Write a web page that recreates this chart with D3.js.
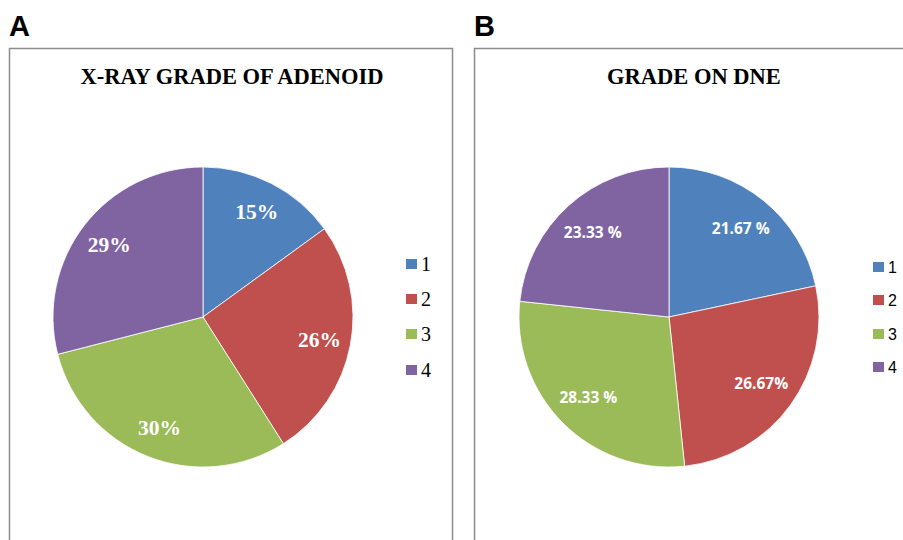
<!DOCTYPE html>
<html>
<head>
<meta charset="utf-8">
<script src="https://cdn.jsdelivr.net/npm/d3@7"></script>
<style>
  html, body { margin: 0; padding: 0; background: #fff; }
  svg { display: block; }
</style>
</head>
<body>
<svg id="chart" width="903" height="540"></svg>
<script>
// Grades shown in both pies
const grades = ["1", "2", "3", "4"];
const sliceColors = ["#4F81BD", "#C0504D", "#9BBB59", "#8064A2"];

// Panel A: X-ray grade of adenoid (%)
const xrayValues = [15, 26, 30, 29];
const xrayLabels = ["15%", "26%", "30%", "29%"];

// Panel B: grade on DNE (%)
const dneValues = [21.67, 26.67, 28.33, 23.33];
const dneLabels = ["21.67 %", "26.67%", "28.33 %", "23.33 %"];

const svg = d3.select("#chart");
const color = d3.scaleOrdinal().domain(grades).range(sliceColors);

const panels = [
  {
    letter: "A", x0: 9.5, x1: 452.5, title: "X-RAY GRADE OF ADENOID", titleX: 232,
    cx: 203, values: xrayValues, labels: xrayLabels,
    labelFont: "'Liberation Serif', 'Times New Roman', serif", labelSize: 21.5, labelR: 0.79,
    legendX: 406, legendFont: "'Liberation Serif', 'Times New Roman', serif", legendSize: 20,
    legendYs: [264, 299, 334, 370]
  },
  {
    letter: "B", x0: 474.5, x1: 930, title: "GRADE ON DNE", titleX: 694,
    cx: 669, values: dneValues, labels: dneLabels,
    labelFont: "'Open Sans', 'Liberation Sans', sans-serif", labelSize: 15.5, labelR: 0.76,
    legendX: 873, legendFont: "'Liberation Sans', Arial, sans-serif", legendSize: 16,
    legendYs: [267, 300, 334, 367]
  }
];

const cy = 317;
const radius = 150;

const pie = d3.pie().sort(null).value(d => d.value);
const arc = d3.arc().innerRadius(0).outerRadius(radius);

panels.forEach(p => {
  const g = svg.append("g");

  // Panel letter
  g.append("text")
    .attr("x", p.x0 - 0.5)
    .attr("y", 36)
    .attr("font-family", "'Liberation Sans', Arial, sans-serif")
    .attr("font-weight", "bold")
    .attr("font-size", 29)
    .attr("fill", "#000")
    .text(p.letter);

  // Chart frame
  g.append("rect")
    .attr("x", p.x0)
    .attr("y", 48.5)
    .attr("width", p.x1 - p.x0)
    .attr("height", 600)
    .attr("fill", "#fff")
    .attr("stroke", "#8c8c8c")
    .attr("stroke-width", 1.5);

  // Title
  g.append("text")
    .attr("x", p.titleX)
    .attr("y", 84)
    .attr("text-anchor", "middle")
    .attr("font-family", "'Liberation Serif', 'Times New Roman', serif")
    .attr("font-weight", "bold")
    .attr("font-size", 22.5)
    .attr("fill", "#000")
    .text(p.title);

  const data = grades.map((k, i) => ({ key: k, value: p.values[i], label: p.labels[i] }));
  const arcs = pie(data);

  const pieG = g.append("g").attr("transform", `translate(${p.cx},${cy})`);
  pieG.selectAll("path")
    .data(arcs)
    .join("path")
    .attr("d", arc)
    .attr("fill", d => color(d.data.key))
    .attr("stroke", "#fff")
    .attr("stroke-width", 0.8);

  const labelArc = d3.arc().innerRadius(radius * p.labelR).outerRadius(radius * p.labelR);
  pieG.selectAll("text")
    .data(arcs)
    .join("text")
    .attr("transform", d => `translate(${labelArc.centroid(d)})`)
    .attr("text-anchor", "middle")
    .attr("dy", "0.35em")
    .attr("font-family", p.labelFont)
    .attr("font-weight", "bold")
    .attr("font-size", p.labelSize)
    .attr("fill", "#fff")
    .text(d => d.data.label);

  // Legend
  const leg = g.append("g");
  grades.forEach((k, i) => {
    const y = p.legendYs[i];
    leg.append("rect")
      .attr("x", p.legendX)
      .attr("y", y - 5)
      .attr("width", 11)
      .attr("height", 10)
      .attr("fill", color(k));
    leg.append("text")
      .attr("x", p.legendX + 15)
      .attr("y", y)
      .attr("dy", "0.35em")
      .attr("font-family", p.legendFont)
      .attr("font-size", p.legendSize)
      .attr("fill", "#000")
      .text(k);
  });
});
</script>
</body>
</html>
